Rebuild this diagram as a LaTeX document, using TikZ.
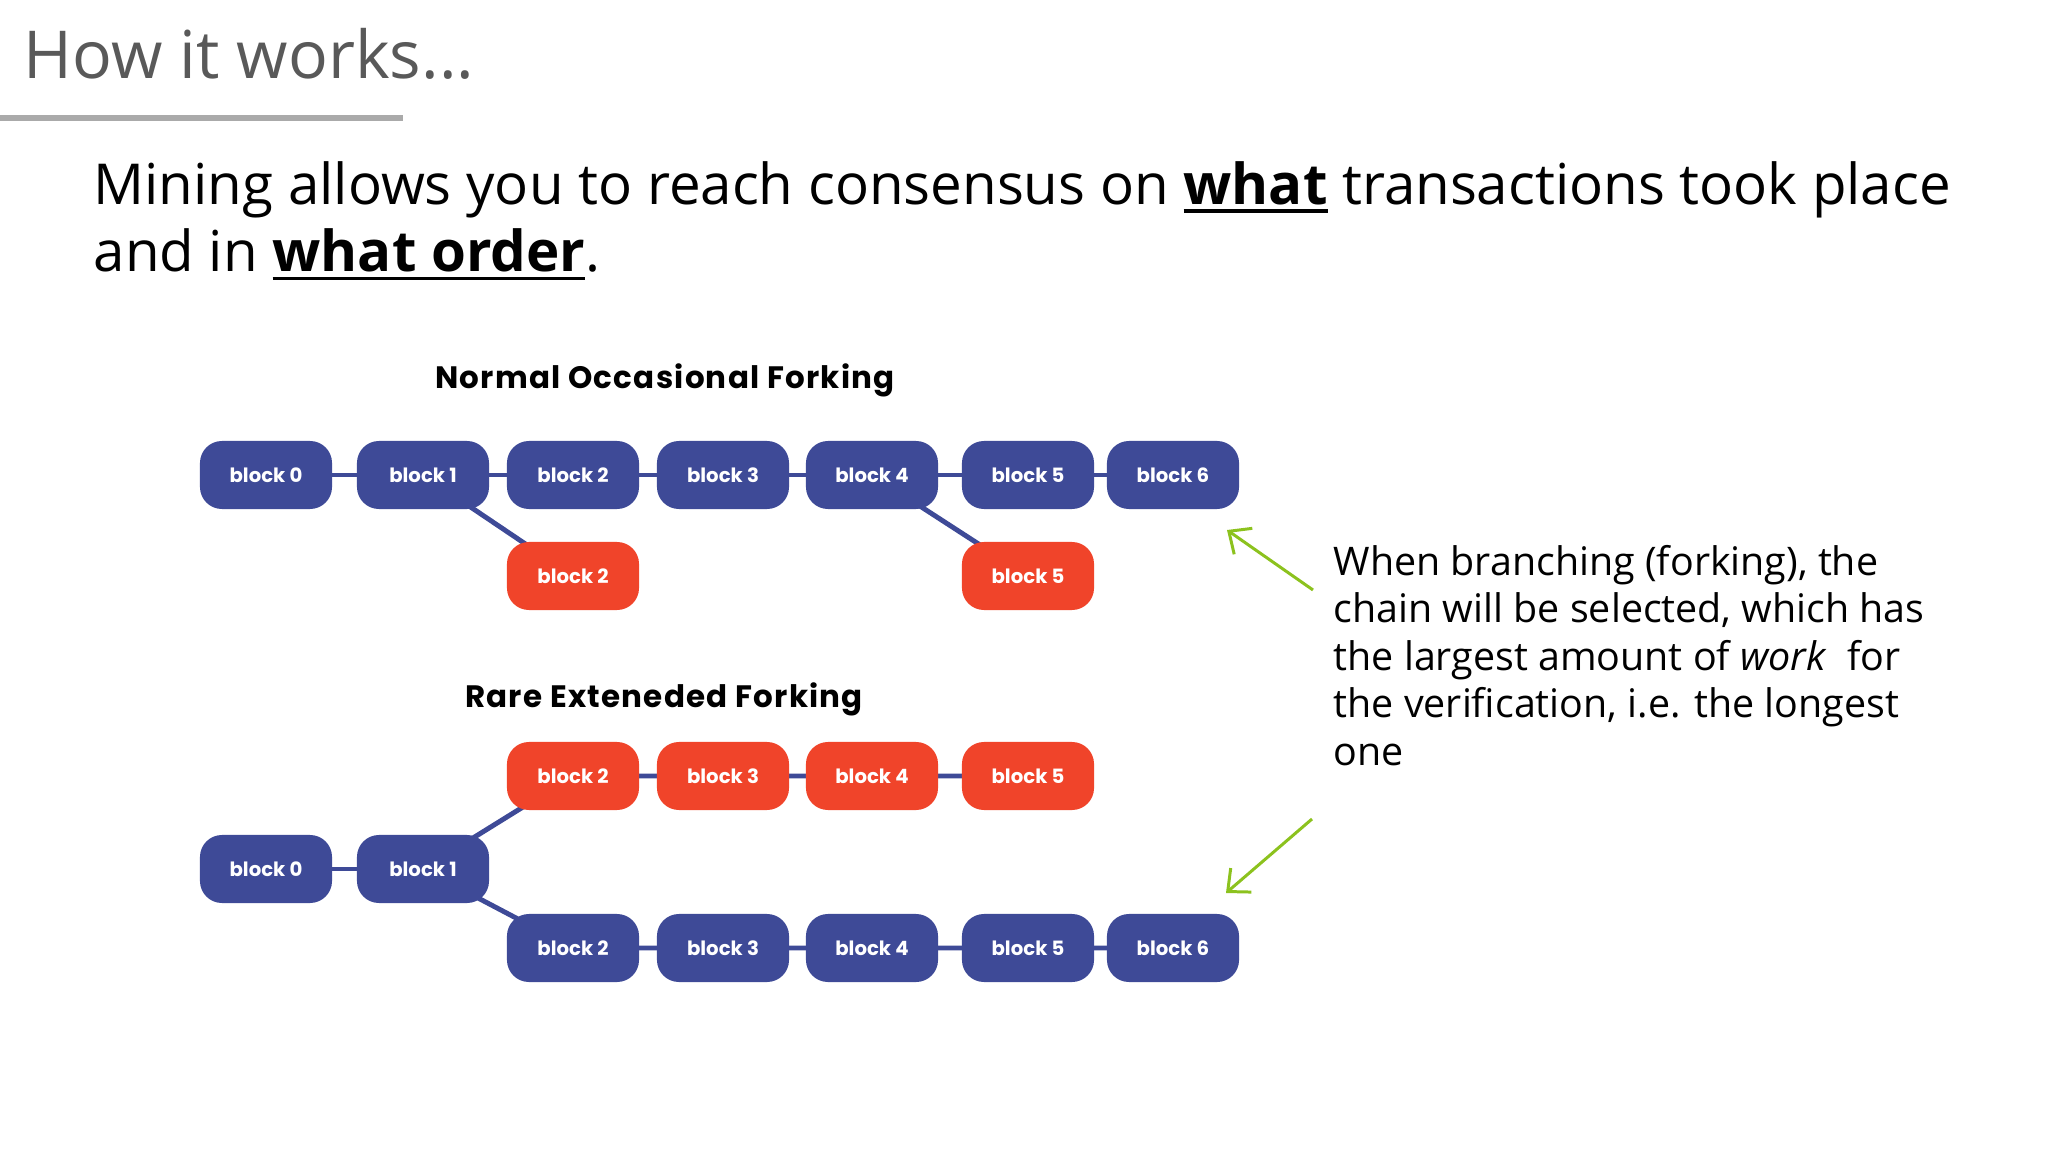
\documentclass[tikz,border=0pt]{standalone}
\usepackage{fontspec}
\setmainfont{Open Sans}
\newfontfamily\blockfont{Poppins}
\newfontfamily\titlefont[LetterSpace=4]{Poppins}
\usetikzlibrary{arrows.meta,backgrounds}
\definecolor{chainblue}{HTML}{3E4A97}
\definecolor{chainred}{HTML}{F0442A}
\definecolor{titlegray}{HTML}{595959}
\definecolor{rulegray}{HTML}{AAAAAA}
\definecolor{arrowgreen}{HTML}{8CC21E}
\newcommand{\ul}[1]{\leavevmode\setbox0\hbox{#1}\rlap{\vrule width\wd0 height -1.3pt depth 2.2pt}\box0\relax}
\tikzset{
  blk/.style={rectangle, rounded corners=0.22cm, minimum width=1.32cm, minimum height=0.68cm,
    inner sep=0pt, fill=chainblue, text=white, font=\blockfont\bfseries\fontsize{5.6pt}{6pt}\selectfont},
  redblk/.style={blk, fill=chainred},
  link/.style={draw=chainblue, line width=1.4pt},
  diagtitle/.style={font=\titlefont\bfseries\fontsize{8.8pt}{10pt}\selectfont, anchor=base, inner sep=0pt},
  pointer/.style={draw=arrowgreen, line width=0.85pt, -{Straight Barb[length=5pt,width=9pt,line width=0.85pt]}}
}
\begin{document}
\begin{tikzpicture}[x=0.01cm,y=-0.01cm]
\useasboundingbox (0,0) rectangle (2048,1152);
% title
\node[anchor=base west, inner sep=0pt, text=titlegray, font=\fontsize{18.8pt}{22pt}\selectfont] (title) at (23,79) {How it works...};
\fill[rulegray] (0,115) rectangle (403,121);
% main text (base anchor = baseline of last line)
\node[anchor=base west, inner sep=0pt, align=left, font=\fontsize{16.05pt}{19.1pt}\selectfont] (main) at (93,272)
  {Mining allows you to reach consensus on \ul{\textbf{what}} transactions took place\\and in \ul{\textbf{what order}}.};
% diagram titles
\node[diagtitle] (t1) at (665,389) {Normal Occasional Forking};
\node[diagtitle] (t2) at (664,707) {Rare Exteneded Forking};
% top diagram
\node[blk] (a0) at (266,475) {block 0};
\node[blk] (a1) at (423,475) {block 1};
\node[blk] (a2) at (573,475) {block 2};
\node[blk] (a3) at (723,475) {block 3};
\node[blk] (a4) at (872,475) {block 4};
\node[blk] (a5) at (1028,475) {block 5};
\node[blk] (a6) at (1173,475) {block 6};
\node[redblk] (ar2) at (573,576) {block 2};
\node[redblk] (ar5) at (1028,576) {block 5};
% bottom diagram
\node[redblk] (s2) at (573,776) {block 2};
\node[redblk] (s3) at (723,776) {block 3};
\node[redblk] (s4) at (872,776) {block 4};
\node[redblk] (s5) at (1028,776) {block 5};
\node[blk] (c0) at (266,869) {block 0};
\node[blk] (c1) at (423,869) {block 1};
\node[blk] (d2) at (573,948) {block 2};
\node[blk] (d3) at (723,948) {block 3};
\node[blk] (d4) at (872,948) {block 4};
\node[blk] (d5) at (1028,948) {block 5};
\node[blk] (d6) at (1173,948) {block 6};
\begin{scope}[on background layer]
  \draw[link] (a0.center) -- (a1.center) -- (a2.center) -- (a3.center) -- (a4.center) -- (a5.center) -- (a6.center);
  \draw[link] (a1.center) -- (ar2.center);
  \draw[link] (a4.center) -- (ar5.center);
  \draw[link] (c0.center) -- (c1.center);
  \draw[link] (c1.center) -- (s2.center) -- (s3.center) -- (s4.center) -- (s5.center);
  \draw[link] (c1.center) -- (d2.center) -- (d3.center) -- (d4.center) -- (d5.center) -- (d6.center);
\end{scope}
% explanation (base anchor = baseline of last line)
\node[anchor=base west, inner sep=0pt, align=left, font=\fontsize{11.2pt}{13.5pt}\selectfont] (expl) at (1333,765)
  {When branching (forking), the\\chain will be selected, which has\\the largest amount of \textit{work}\ \ for\\the verification, i.e. the longest\\one};
\coordinate (p1) at (1313,590);
\coordinate (q1) at (1227,530);
\coordinate (p2) at (1312,819);
\coordinate (q2) at (1226,893);
\draw[pointer] (p1) -- (q1);
\draw[pointer] (p2) -- (q2);
\end{tikzpicture}
\end{document}
